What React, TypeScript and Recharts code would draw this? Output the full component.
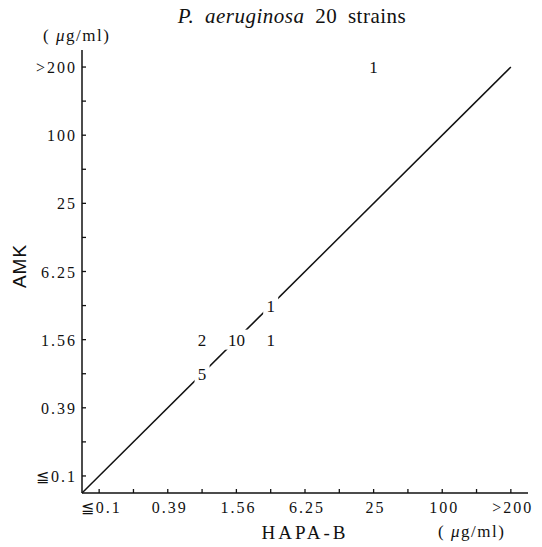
import React from "react";
import { ScatterChart, Scatter, XAxis, YAxis } from "recharts";

// MIC levels (µg/ml), shared by both axes
const levels = ["≦0.1", "0.2", "0.39", "0.78", "1.56", "3.13", "6.25", "12.5", "25", "50", "100", "200", ">200"];

// strains: HAPA-B MIC, AMK MIC, number of strains
const hapaB = ["0.78", "1.56", "3.13", "0.78", "3.13", "25"];
const amk = ["0.78", "1.56", "3.13", "1.56", "1.56", ">200"];
const counts = [5, 10, 1, 2, 1, 1];

// line of equality (level index units)
const equalityLine = [
  { x: -0.5, y: -0.5 },
  { x: 12, y: 12 },
];

const points = counts.map((n, i) => ({
  x: levels.indexOf(hapaB[i]),
  y: levels.indexOf(amk[i]),
  n,
}));

const tickIdx = levels.map((_, i) => i);

const serif = "'Times New Roman', 'Liberation Serif', Times, 'DejaVu Serif', serif";

const X_MARGIN = 8;
const Y_MARGIN = 6;

const XTick = (props: any) => {
  const { x, y, payload } = props;
  const v = payload.value as number;
  const ay = y - X_MARGIN;
  return (
    <g>
      <line x1={x} x2={x} y1={ay} y2={ay - 4} stroke="#111" strokeWidth={1.3} />
      {v % 2 === 0 && (
        <text x={x + 2} y={ay + 20} textAnchor="middle" fontFamily={serif} fontSize={16} fill="#111" letterSpacing={2}>
          {levels[v]}
        </text>
      )}
    </g>
  );
};

const YTick = (props: any) => {
  const { x, y, payload } = props;
  const v = payload.value as number;
  const ax = x + Y_MARGIN;
  return (
    <g>
      <line x1={ax} x2={ax + 4} y1={y} y2={y} stroke="#111" strokeWidth={1.3} />
      {v % 2 === 0 && (
        <text x={ax - 5} y={y + 6} textAnchor="end" fontFamily={serif} fontSize={16} fill="#111" letterSpacing={2}>
          {levels[v]}
        </text>
      )}
    </g>
  );
};

const CountLabel = (props: any) => {
  const { cx, cy, payload } = props;
  const w = String(payload.n).length * 9 + 6;
  return (
    <g>
      <rect x={cx - w / 2} y={cy - 10} width={w} height={20} fill="#fff" />
      <text x={cx} y={cy + 6} textAnchor="middle" fontFamily={serif} fontSize={17} fill="#111">
        {payload.n}
      </text>
    </g>
  );
};

export default function App() {
  return (
    <div style={{ position: "absolute", left: 0, top: 0, width: 542, height: 547, background: "#fff" }}>
      <ScatterChart width={542} height={547} margin={{ top: 50, right: 14, bottom: 24, left: 0 }}>
        <XAxis
          type="number"
          dataKey="x"
          domain={[-0.5, 12.5]}
          ticks={tickIdx}
          interval={0}
          height={30}
          stroke="#111"
          strokeWidth={1.5}
          tickLine={false}
          tickSize={0}
          tickMargin={X_MARGIN}
          tick={XTick}
        />
        <YAxis
          type="number"
          dataKey="y"
          domain={[-0.5, 12.5]}
          ticks={tickIdx}
          interval={0}
          width={82}
          stroke="#111"
          strokeWidth={1.5}
          tickLine={false}
          tickSize={0}
          tickMargin={Y_MARGIN}
          tick={YTick}
        />
        <Scatter
          data={equalityLine}
          line={{ stroke: "#111", strokeWidth: 1.5 }}
          shape={() => <g />}
          isAnimationActive={false}
        />
        <Scatter data={points} shape={CountLabel} isAnimationActive={false} />
      </ScatterChart>

      <div style={{ position: "absolute", left: 0, top: 4, width: 584, textAlign: "center", fontFamily: serif, fontSize: 21, color: "#111", wordSpacing: 5, letterSpacing: 0.5 }}>
        <i>P. aeruginosa</i> 20 strains
      </div>
      <div style={{ position: "absolute", left: 43, top: 26, fontFamily: serif, fontSize: 17, color: "#111", letterSpacing: 1.5 }}>
        ( <i>μ</i>g/ml)
      </div>
      <div style={{ position: "absolute", left: 438, top: 522, fontFamily: serif, fontSize: 17, color: "#111", letterSpacing: 1.5 }}>
        ( <i>μ</i>g/ml)
      </div>
      <div style={{ position: "absolute", left: 0, top: 522, width: 610, textAlign: "center", fontFamily: serif, fontSize: 19, color: "#111", letterSpacing: 3 }}>
        HAPA-B
      </div>
      <div
        style={{
          position: "absolute",
          left: 20,
          top: 266,
          transform: "translate(-50%, -50%) rotate(-90deg)",
          fontFamily: "'Liberation Sans', Arial, sans-serif",
          fontSize: 19,
          color: "#111",
          letterSpacing: 1,
        }}
      >
        AMK
      </div>
    </div>
  );
}
